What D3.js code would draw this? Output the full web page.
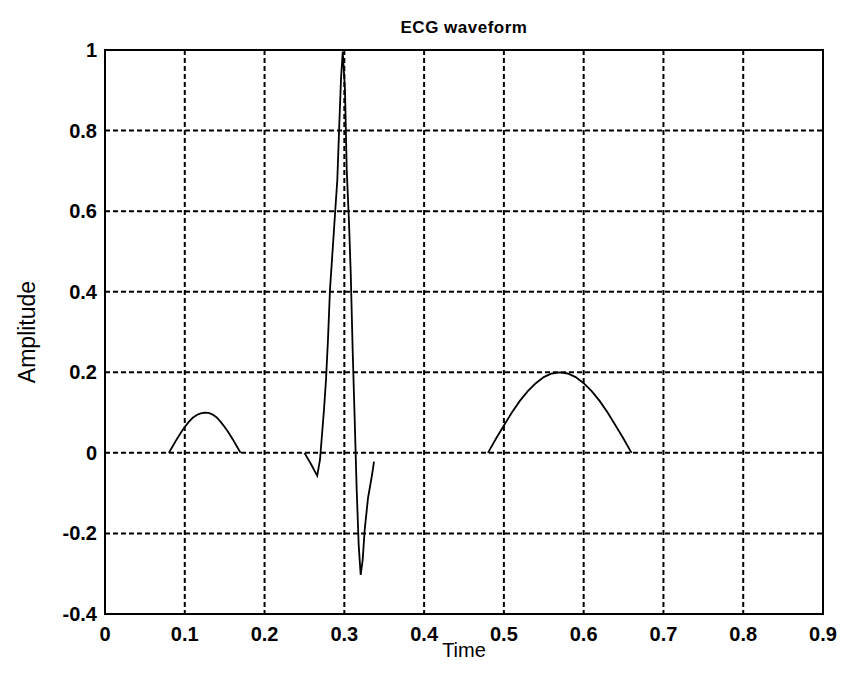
<!DOCTYPE html>
<html>
<head>
<meta charset="utf-8">
<script src="https://cdn.jsdelivr.net/npm/d3@7"></script>
<style>
  body { margin: 0; background: #fff; }
  text { font-family: "Liberation Sans", Arial, sans-serif; fill: #000; }
</style>
</head>
<body>
<div id="chart"></div>
<script>
// ECG waveform pieces
var pTime = [0.080, 0.085, 0.090, 0.095, 0.100, 0.105, 0.110, 0.115, 0.120, 0.125,
             0.130, 0.135, 0.140, 0.145, 0.150, 0.155, 0.160, 0.165, 0.170];
var pAmp = [0, 0.017, 0.034, 0.050, 0.064, 0.077, 0.087, 0.094, 0.098, 0.100,
            0.099, 0.095, 0.088, 0.077, 0.064, 0.050, 0.034, 0.017, 0];

var qrsTime = [0.250, 0.258, 0.266, 0.2695, 0.272, 0.2745, 0.277, 0.2795, 0.282, 0.2862,
               0.2887, 0.2912, 0.2939, 0.2958, 0.298, 0.3008, 0.303, 0.3058, 0.308, 0.3105,
               0.313, 0.3155, 0.318, 0.3205, 0.323, 0.3255, 0.3297, 0.3347, 0.3372];
var qrsAmp = [0, -0.027, -0.057, -0.017, 0.045, 0.107, 0.181, 0.281, 0.405, 0.529,
              0.604, 0.678, 0.827, 0.927, 0.996, 0.902, 0.703, 0.574, 0.447, 0.251,
              0.082, -0.092, -0.229, -0.303, -0.266, -0.191, -0.112, -0.055, -0.022];

var tTime = [0.48, 0.49, 0.50, 0.51, 0.52, 0.53, 0.54, 0.55, 0.56, 0.57,
             0.58, 0.59, 0.60, 0.61, 0.62, 0.63, 0.64, 0.65, 0.66];
var tAmp = [0, 0.035, 0.068, 0.100, 0.129, 0.153, 0.173, 0.188, 0.197, 0.200,
            0.197, 0.188, 0.173, 0.153, 0.129, 0.100, 0.068, 0.035, 0];

var xTicks = [0, 0.1, 0.2, 0.3, 0.4, 0.5, 0.6, 0.7, 0.8, 0.9];
var xTickLabels = ["0", "0.1", "0.2", "0.3", "0.4", "0.5", "0.6", "0.7", "0.8", "0.9"];
var yTicks = [-0.4, -0.2, 0, 0.2, 0.4, 0.6, 0.8, 1];
var yTickLabels = ["-0.4", "-0.2", "0", "0.2", "0.4", "0.6", "0.8", "1"];

var width = 841, height = 685;
var margin = { top: 50, right: 18, bottom: 71, left: 105 };

var svg = d3.select("#chart").append("svg")
    .attr("width", width)
    .attr("height", height);

var x = d3.scaleLinear().domain([0, 0.9]).range([margin.left, width - margin.right]);
var y = d3.scaleLinear().domain([-0.4, 1]).range([height - margin.bottom, margin.top]);

// grid
svg.append("g").attr("class", "grid-x")
    .selectAll("line")
    .data(xTicks.slice(1, -1))
    .enter().append("line")
    .attr("x1", function(d) { return x(d); })
    .attr("x2", function(d) { return x(d); })
    .attr("y1", y(1))
    .attr("y2", y(-0.4))
    .attr("stroke", "#000")
    .attr("stroke-width", 2)
    .attr("stroke-dasharray", "5,3");

svg.append("g").attr("class", "grid-y")
    .selectAll("line")
    .data(yTicks.slice(1, -1))
    .enter().append("line")
    .attr("x1", x(0))
    .attr("x2", x(0.9))
    .attr("y1", function(d) { return y(d); })
    .attr("y2", function(d) { return y(d); })
    .attr("stroke", "#000")
    .attr("stroke-width", 2)
    .attr("stroke-dasharray", "5,3");

// box
svg.append("rect")
    .attr("x", x(0))
    .attr("y", y(1))
    .attr("width", x(0.9) - x(0))
    .attr("height", y(-0.4) - y(1))
    .attr("fill", "none")
    .attr("stroke", "#000")
    .attr("stroke-width", 2);

// tick labels
svg.append("g").selectAll("text")
    .data(xTicks)
    .enter().append("text")
    .attr("x", function(d) { return x(d); })
    .attr("y", y(-0.4) + 27)
    .attr("text-anchor", "middle")
    .style("font-size", "20px")
    .style("font-weight", "bold")
    .text(function(d, i) { return xTickLabels[i]; });

svg.append("g").selectAll("text")
    .data(yTicks)
    .enter().append("text")
    .attr("x", x(0) - 8)
    .attr("y", function(d) { return y(d) + 7; })
    .attr("text-anchor", "end")
    .style("font-size", "20px")
    .style("font-weight", "bold")
    .text(function(d, i) { return yTickLabels[i]; });

// waveform
var line = d3.line()
    .x(function(d) { return x(d[0]); })
    .y(function(d) { return y(d[1]); });

var pieces = [[pTime, pAmp], [qrsTime, qrsAmp], [tTime, tAmp]];
svg.append("g").attr("class", "ecg")
    .selectAll("path")
    .data(pieces)
    .enter().append("path")
    .attr("d", function(p) {
        return line(p[0].map(function(t, i) { return [t, p[1][i]]; }));
    })
    .attr("fill", "none")
    .attr("stroke", "#000")
    .attr("stroke-width", 1.8);

// titles
svg.append("text")
    .attr("x", (x(0) + x(0.9)) / 2)
    .attr("y", 33)
    .attr("text-anchor", "middle")
    .style("font-size", "17px")
    .style("font-weight", "bold")
    .style("letter-spacing", "0.5px")
    .text("ECG waveform");

svg.append("text")
    .attr("x", (x(0) + x(0.9)) / 2)
    .attr("y", 657)
    .attr("text-anchor", "middle")
    .style("font-size", "20px")
    .text("Time");

svg.append("text")
    .attr("transform", "translate(35," + ((y(1) + y(-0.4)) / 2) + ") rotate(-90)")
    .attr("text-anchor", "middle")
    .style("font-size", "23px")
    .text("Amplitude");
</script>
</body>
</html>
